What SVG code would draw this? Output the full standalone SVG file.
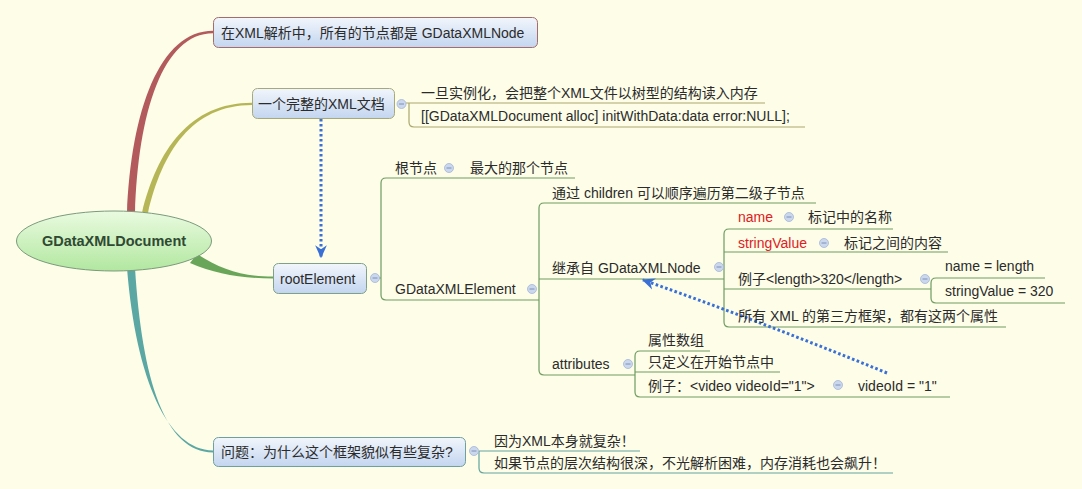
<svg xmlns="http://www.w3.org/2000/svg" width="1082" height="489" viewBox="0 0 1082 489">
<defs>
<style>
text{font-family:"Liberation Sans","Noto Sans CJK SC",sans-serif;font-size:14px;fill:#2b2b2b}
.red{fill:#e0201e}
.box{stroke-width:1}
.ln{fill:none;stroke-width:1.2}
.lo{stroke:#aaa76c}
.lg{stroke:#6f9c60}
.lt{stroke:#62a39c}
.tog circle{fill:#cbd7ec;stroke:#a3b5d8;stroke-width:0.8}
.tog path{stroke:#7d90b8;stroke-width:1}
.dot{fill:none;stroke:#3a6fd6;stroke-width:3;stroke-dasharray:2.6 2.4}
</style>
<linearGradient id="gbox" x1="0" y1="0" x2="0" y2="1">
<stop offset="0" stop-color="#f2f6fc"/>
<stop offset="1" stop-color="#c3d5ef"/>
</linearGradient>
<linearGradient id="groot" x1="0" y1="0" x2="0" y2="1">
<stop offset="0" stop-color="#eafbe0"/>
<stop offset="1" stop-color="#b2e7a0"/>
</linearGradient>
<marker id="arr" viewBox="0 0 10 10" refX="9" refY="5" markerWidth="13" markerHeight="13" markerUnits="userSpaceOnUse" orient="auto">
<path d="M0,0.5 L10,5 L0,9.5 L3,5 Z" fill="#3a6fd6"/>
</marker>
</defs>
<rect width="1082" height="489" fill="#fdfde8"/>

<g id="connectors">
<path d="M127,214 C131,110 160,30.8 213,30.8 L213,33.2 C163,33.2 138,112 135,214 Z" fill="#b35a5c"/>
<path d="M142,213 C157,150 190,102.8 252,102.8 L252,105 C192,105 162,152 148,213 Z" fill="#b7b656"/>
<path d="M197,254 C222,270 242,276.4 273,276.4 L273,278.4 C240,278.4 216,274 190,263 Z" fill="#6aa65a"/>
<path d="M127,268 C136,380 168,450.4 213,450.4 L213,452.4 C165,452.4 142,380 135,268 Z" fill="#5aa7a3"/>

<path class="ln lo" d="M406,103 H765 M409,103 V122 Q409,127 414,127 H805"/>
<path class="ln lg" d="M379,278 H381 M575,178 H386 Q381,178 381,183 V295 Q381,300 386,300 H539"/>
<path class="ln lg" d="M816,203 H544 Q539,203 539,208 V370 Q539,375 544,375 H635 M539,279 H724"/>
<path class="ln lg" d="M893,229 H729 Q724,229 724,234 V322 Q724,327 729,327 H1006 M724,252 H948 M724,289 H931"/>
<path class="ln lg" d="M1045,278 H936 Q931,278 931,283 V298 Q931,303 936,303 H1065"/>
<path class="ln lg" d="M710,351 H640 Q635,351 635,356 V392 Q635,397 640,397 H950 M635,372 H780"/>
<path class="ln lt" d="M479,451 H640 M479,451 V468 Q479,473 484,473 H893"/>

<path class="dot" d="M321,119 V257" marker-end="url(#arr)"/>
<path class="dot" d="M887,373 Q762,322 643,280" marker-end="url(#arr)"/>
</g>

<g id="root">
<ellipse cx="114" cy="241" rx="97.5" ry="30" fill="url(#groot)" stroke="#7c9a7c" stroke-width="1"/>
<text x="114" y="246" text-anchor="middle" style="font-weight:bold;font-size:14.5px;fill:#2f4a33">GDataXMLDocument</text>
</g>

<g id="node-allnodes">
<rect class="box" x="213.5" y="17.5" width="324" height="30" rx="5" fill="url(#gbox)" stroke="#a86b6c"/>
<text x="221" y="37.5">在XML解析中，所有的节点都是 GDataXMLNode</text>
</g>

<g id="node-doc">
<rect class="box" x="252.5" y="88.5" width="142" height="30" rx="5" fill="url(#gbox)" stroke="#a7a97a"/>
<text x="258" y="109">一个完整的XML文档</text>
<g class="tog"><circle cx="401.5" cy="104" r="4.5"/><path d="M399,104 H404"/></g>
</g>
<g id="node-doc-1"><text x="421" y="97.5">一旦实例化，会把整个XML文件以树型的结构读入内存</text></g>
<g id="node-doc-2"><text x="421" y="120.5">[[GDataXMLDocument alloc] initWithData:data error:NULL];</text></g>

<g id="node-rootElement">
<rect class="box" x="273.5" y="263.5" width="93" height="30" rx="5" fill="url(#gbox)" stroke="#7fa18b"/>
<text x="280" y="283.5">rootElement</text>
<g class="tog"><circle cx="375" cy="278" r="4.5"/><path d="M372.5,278 H377.5"/></g>
</g>

<g id="node-genjiedian">
<text x="395" y="173">根节点</text>
<g class="tog"><circle cx="449" cy="168" r="4.5"/><path d="M446.5,168 H451.5"/></g>
</g>
<g id="node-zuida"><text x="470" y="173">最大的那个节点</text></g>

<g id="node-element">
<text x="395" y="293.5">GDataXMLElement</text>
<g class="tog"><circle cx="532" cy="289" r="4.5"/><path d="M529.5,289 H534.5"/></g>
</g>
<g id="node-children"><text x="552" y="198">通过 children 可以顺序遍历第二级子节点</text></g>

<g id="node-inherit">
<text x="552" y="272.5">继承自 GDataXMLNode</text>
<g class="tog"><circle cx="719" cy="267" r="4.5"/><path d="M716.5,267 H721.5"/></g>
</g>

<g id="node-name">
<text x="738" y="222" class="red">name</text>
<g class="tog"><circle cx="789" cy="217" r="4.5"/><path d="M786.5,217 H791.5"/></g>
</g>
<g id="node-name-desc"><text x="808" y="222">标记中的名称</text></g>

<g id="node-stringValue">
<text x="738" y="248" class="red">stringValue</text>
<g class="tog"><circle cx="824" cy="243" r="4.5"/><path d="M821.5,243 H826.5"/></g>
</g>
<g id="node-sv-desc"><text x="844" y="248">标记之间的内容</text></g>

<g id="node-example-length">
<text x="738" y="283.5">例子&lt;length&gt;320&lt;/length&gt;</text>
<g class="tog"><circle cx="925" cy="279" r="4.5"/><path d="M922.5,279 H927.5"/></g>
</g>
<g id="node-name-eq"><text x="945" y="271">name = length</text></g>
<g id="node-sv-eq"><text x="945" y="296">stringValue = 320</text></g>
<g id="node-all-xml"><text x="738" y="321">所有 XML 的第三方框架，都有这两个属性</text></g>

<g id="node-attributes">
<text x="552" y="368.5">attributes</text>
<g class="tog"><circle cx="628" cy="364" r="4.5"/><path d="M625.5,364 H630.5"/></g>
</g>
<g id="node-attr-1"><text x="648" y="345">属性数组</text></g>
<g id="node-attr-2"><text x="648" y="367">只定义在开始节点中</text></g>
<g id="node-attr-3">
<text x="648" y="390.5">例子：&lt;video videoId="1"&gt;</text>
<g class="tog"><circle cx="838" cy="385" r="4.5"/><path d="M835.5,385 H840.5"/></g>
</g>
<g id="node-videoid"><text x="858" y="390.5">videoId = "1"</text></g>

<g id="node-question">
<rect class="box" x="213.5" y="437.5" width="252" height="29" rx="5" fill="url(#gbox)" stroke="#6fa0a0"/>
<text x="221" y="456.5">问题：为什么这个框架貌似有些复杂?</text>
<g class="tog"><circle cx="474" cy="451" r="4.5"/><path d="M471.5,451 H476.5"/></g>
</g>
<g id="node-q-1"><text x="494" y="445.5">因为XML本身就复杂！</text></g>
<g id="node-q-2"><text x="494" y="467.5">如果节点的层次结构很深，不光解析困难，内存消耗也会飙升！</text></g>
</svg>
